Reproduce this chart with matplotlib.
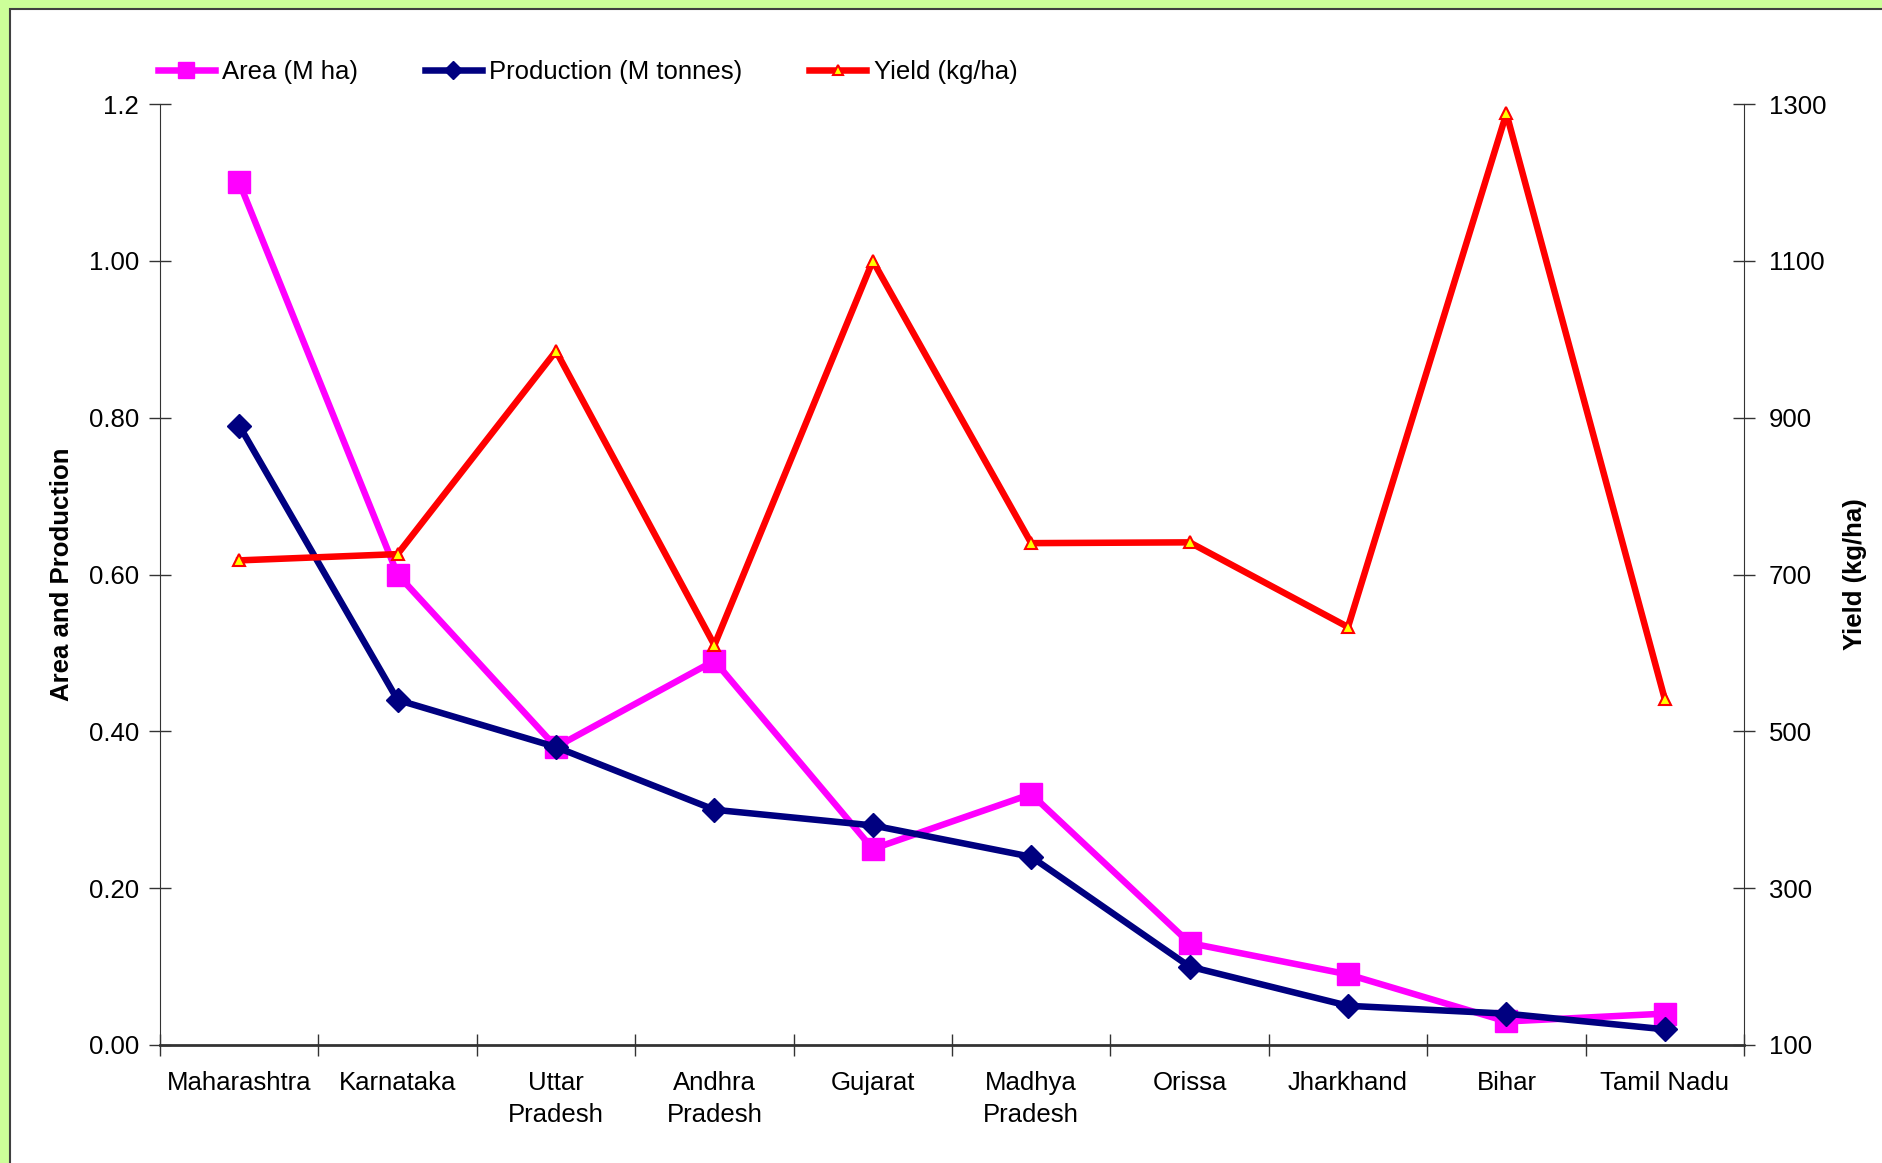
import matplotlib
matplotlib.use('Agg')
import matplotlib.pyplot as plt
from matplotlib.patches import Rectangle

plt.rcParams['font.family'] = ['Liberation Sans', 'DejaVu Sans']

states = ['Maharashtra', 'Karnataka', 'Uttar\nPradesh', 'Andhra\nPradesh', 'Gujarat',
          'Madhya\nPradesh', 'Orissa', 'Jharkhand', 'Bihar', 'Tamil Nadu']
area = [1.10, 0.60, 0.38, 0.49, 0.25, 0.32, 0.13, 0.09, 0.03, 0.04]
production = [0.79, 0.44, 0.38, 0.30, 0.28, 0.24, 0.10, 0.05, 0.04, 0.02]
yield_kg = [718, 726, 985, 610, 1100, 740, 741, 633, 1288, 541]

left_ticks = [0, 0.2, 0.4, 0.6, 0.8, 1.0, 1.2]
left_labels = ['0.00', '0.20', '0.40', '0.60', '0.80', '1.00', '1.2']
right_ticks = [100, 300, 500, 700, 900, 1100, 1300]

W, H = 1883, 1163
fs = 18.5
fig = plt.figure(figsize=(W / 100, H / 100), dpi=100, facecolor='#CCFF99')
# white chart panel with dark border (runs off right and bottom edges)
fig.add_artist(Rectangle((10 / W, -0.02), 1.05, 1 - 9 / H + 0.02, transform=fig.transFigure,
                         facecolor='white', edgecolor='#404040', lw=1.5, zorder=0))

ax = fig.add_axes([160 / W, (H - 1045) / H, (1744 - 160) / W, (1045 - 104) / H])
ax.patch.set_alpha(0)
x = list(range(len(states)))

l1, = ax.plot(x, area, color='#FF00FF', lw=4.7, marker='s', markersize=16,
              markerfacecolor='#FF00FF', markeredgecolor='#FF00FF', label='Area (M ha)')
l2, = ax.plot(x, production, color='#000080', lw=4.7, marker='D', markersize=12,
              markerfacecolor='#000080', markeredgecolor='#000080', label='Production (M tonnes)')

ax.set_xlim(-0.5, len(states) - 0.5)
ax.set_ylim(0, 1.2)
ax.set_yticks(left_ticks)
ax.set_yticklabels(left_labels)
ax.set_xticks(x)
ax.set_xticklabels(states, linespacing=1.4)
ax.set_xticks([i + 0.5 for i in range(-1, len(states))], minor=True)
ax.tick_params(axis='x', which='major', length=0, pad=19, labelsize=fs)
ax.tick_params(axis='x', which='minor', length=16, direction='inout', width=1, color='#333333')
ax.tick_params(axis='y', length=16, direction='inout', width=1, pad=7, labelsize=fs,
               color='#333333')
ax.spines['top'].set_visible(False)
ax.spines['right'].set_visible(False)
ax.spines['left'].set_color('#333333')
ax.spines['bottom'].set_color('#333333')
ax.spines['bottom'].set_linewidth(2)
ax.set_ylabel('Area and Production', fontsize=fs, fontweight='bold', labelpad=11)

ax2 = ax.twinx()
l3, = ax2.plot(x, yield_kg, color='#FF0000', lw=4.7, marker='^', markersize=9,
               markerfacecolor='#FFFF00', markeredgecolor='#FF0000', markeredgewidth=1.5,
               label='Yield (kg/ha)')
ax2.set_ylim(100, 1300)
ax2.set_yticks(right_ticks)
ax2.tick_params(axis='y', length=16, direction='inout', width=1, pad=10, labelsize=fs,
                color='#333333')
for s in ['top', 'left', 'bottom']:
    ax2.spines[s].set_visible(False)
ax2.spines['right'].set_color('#333333')
ax2.set_ylabel('Yield (kg/ha)', fontsize=fs, fontweight='bold', labelpad=12)

fig.legend(handles=[l1, l2, l3], loc='center left', bbox_to_anchor=(158 / W, 1 - 72 / H),
           ncol=3, frameon=False, fontsize=fs, handlelength=2.2, handletextpad=0.3,
           columnspacing=2.6, borderpad=0, borderaxespad=0, markerscale=0.75)

fig.savefig('out.png', dpi=100, facecolor=fig.get_facecolor())
